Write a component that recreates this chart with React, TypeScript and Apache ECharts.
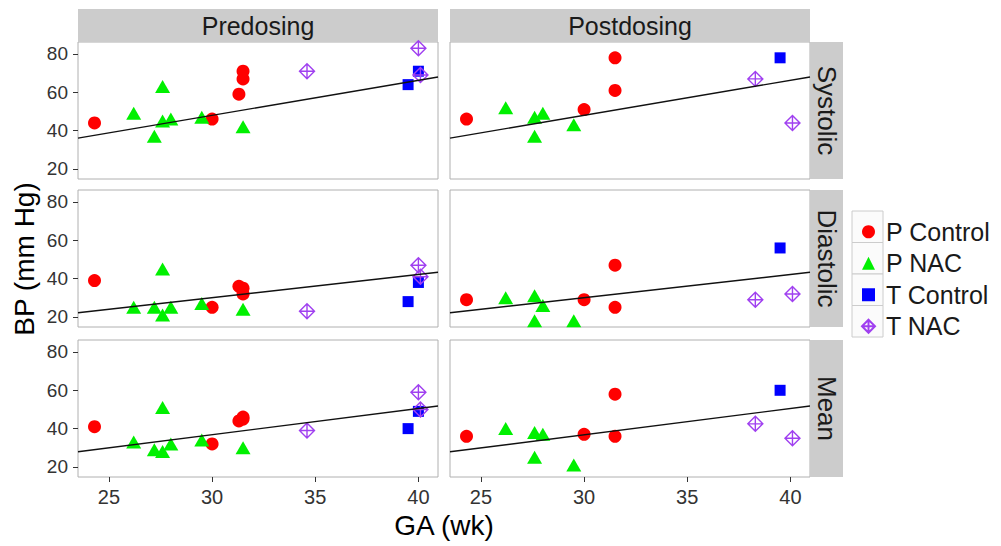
import React, { useEffect, useRef } from "react";
import * as echarts from "echarts";

const groups = ["P Control", "P NAC", "T Control", "T NAC"];
const periods = ["Predosing", "Postdosing"];
const measures = ["Systolic", "Diastolic", "Mean"];
const xTicks = [25, 30, 35, 40];
const yTicks = [20, 40, 60, 80];

// GA (wk) of each subject, per group and period
const preGaPControl = [24.3, 30.0, 31.3, 31.5, 31.5];
const preGaPNac = [26.2, 27.2, 27.6, 27.6, 28.0, 29.5, 31.5];
const preGaTControl = [39.5, 40.0];
const preGaTNac = [34.6, 40.0, 40.1];
const postGaPControl = [24.3, 30.0, 31.5, 31.5];
const postGaPNac = [26.2, 27.6, 27.6, 28.0, 29.5];
const postGaTControl = [39.5];
const postGaTNac = [38.3, 40.1];

// Predosing BP (mm Hg)
const preSysPControl = [44, 46, 59, 67, 71];
const preSysPNac = [49, 37, 63, 45, 46, 47, 42];
const preSysTControl = [64, 71];
const preSysTNac = [71, 83, 69];
const preDiaPControl = [39, 25, 36, 35, 32];
const preDiaPNac = [25, 25, 45, 21, 25, 27, 24];
const preDiaTControl = [28, 38];
const preDiaTNac = [23, 47, 41];
const preMeanPControl = [41, 32, 44, 46, 45];
const preMeanPNac = [33, 29, 51, 28, 32, 34, 30];
const preMeanTControl = [40, 49];
const preMeanTNac = [39, 59, 50];

// Postdosing BP (mm Hg)
const postSysPControl = [46, 51, 61, 78];
const postSysPNac = [52, 47, 37, 49, 43];
const postSysTControl = [78];
const postSysTNac = [67, 44];
const postDiaPControl = [29, 29, 47, 25];
const postDiaPNac = [30, 31, 18, 26, 18];
const postDiaTControl = [56];
const postDiaTNac = [29, 32];
const postMeanPControl = [36, 37, 58, 36];
const postMeanPNac = [40, 38, 25, 37, 21];
const postMeanTControl = [60];
const postMeanTNac = [42.5, 35];

// Fitted regression line ends (GA range of panel)
const fitGa = [23.5, 40.95];
const fitSystolic = [36.1, 68.0];
const fitDiastolic = [22.2, 43.3];
const fitMean = [27.9, 51.8];

const gaTable = [
  [preGaPControl, preGaPNac, preGaTControl, preGaTNac],
  [postGaPControl, postGaPNac, postGaTControl, postGaTNac],
];
const bpTable = [
  [
    [preSysPControl, preSysPNac, preSysTControl, preSysTNac],
    [preDiaPControl, preDiaPNac, preDiaTControl, preDiaTNac],
    [preMeanPControl, preMeanPNac, preMeanTControl, preMeanTNac],
  ],
  [
    [postSysPControl, postSysPNac, postSysTControl, postSysTNac],
    [postDiaPControl, postDiaPNac, postDiaTControl, postDiaTNac],
    [postMeanPControl, postMeanPNac, postMeanTControl, postMeanTNac],
  ],
];
const fitTable = [fitSystolic, fitDiastolic, fitMean];

const FONT = "'Liberation Sans', Arial, Helvetica, sans-serif";
const diamondPlus = "path://M0,-10L10,0L0,10L-10,0ZM0,-10L0,10M-10,0L10,0";

const groupStyles: any[] = [
  { symbol: "circle", symbolSize: 13, itemStyle: { color: "#ff0000", opacity: 1 } },
  { symbol: "triangle", symbolSize: [15, 13], itemStyle: { color: "#00f000", opacity: 1 } },
  { symbol: "rect", symbolSize: 11, itemStyle: { color: "#0000ff", opacity: 1 } },
  {
    symbol: diamondPlus,
    symbolSize: 15,
    itemStyle: { color: "rgba(0,0,0,0)", borderColor: "#a040f0", borderWidth: 1.4, opacity: 1 },
  },
];

const colLeft = [78, 450];
const rowTop = [42, 190, 340];
const panelW = 360;
const panelH = 137;

export default function App() {
  const ref = useRef<HTMLDivElement>(null);

  useEffect(() => {
    document.body.style.margin = "0";
    const chart = echarts.init(ref.current!, null, { renderer: "svg" });

    const grids: any[] = [];
    const xAxes: any[] = [];
    const yAxes: any[] = [];
    const series: any[] = [];
    const graphics: any[] = [];

    measures.forEach((m, r) => {
      periods.forEach((p, c) => {
        const gi = r * 2 + c;
        grids.push({
          left: colLeft[c],
          top: rowTop[r],
          width: panelW,
          height: panelH,
          show: true,
          backgroundColor: "#ffffff",
          borderColor: "#b0b0b0",
          borderWidth: 1,
          containLabel: false,
          outerBoundsMode: "none",
        });
        const bottomRow = r === measures.length - 1;
        const leftCol = c === 0;
        xAxes.push({
          type: "value",
          gridIndex: gi,
          min: 23.5,
          max: 40.95,
          axisLine: { show: false },
          splitLine: { show: false },
          axisTick: {
            show: bottomRow,
            customValues: xTicks,
            length: 5,
            lineStyle: { color: "#333333", width: 1 },
          },
          axisLabel: {
            show: bottomRow,
            customValues: xTicks,
            fontSize: 20,
            color: "#333333",
            fontFamily: FONT,
            margin: 10,
          },
        });
        yAxes.push({
          type: "value",
          gridIndex: gi,
          min: 14.75,
          max: 86.25,
          axisLine: { show: false },
          splitLine: { show: false },
          axisTick: {
            show: leftCol,
            customValues: yTicks,
            length: 5,
            lineStyle: { color: "#333333", width: 1 },
          },
          axisLabel: {
            show: leftCol,
            customValues: yTicks,
            fontSize: 19,
            color: "#333333",
            fontFamily: FONT,
            margin: 10,
          },
        });
        groups.forEach((g, k) => {
          const xs = gaTable[c][k];
          const ys = bpTable[c][r][k];
          series.push({
            type: "scatter",
            name: g,
            xAxisIndex: gi,
            yAxisIndex: gi,
            data: xs.map((x, i) => [x, ys[i]]),
            ...groupStyles[k],
            z: 2,
          });
        });
        const fit = fitTable[r];
        series.push({
          type: "line",
          name: "fit",
          xAxisIndex: gi,
          yAxisIndex: gi,
          data: fitGa.map((x, i) => [x, fit[i]]),
          symbol: "none",
          lineStyle: { color: "#111111", width: 1.4 },
          z: 3,
          silent: true,
        });
      });
    });

    // top strips
    periods.forEach((p, c) => {
      graphics.push({
        type: "rect",
        shape: { x: colLeft[c], y: 9, width: panelW, height: 33 },
        style: { fill: "#cccccc" },
        z: 1,
      });
      graphics.push({
        type: "text",
        x: colLeft[c] + panelW / 2,
        y: 26,
        style: {
          text: p,
          fill: "#1a1a1a",
          fontSize: 25,
          fontFamily: FONT,
          align: "center",
          verticalAlign: "middle",
        },
        z: 2,
      });
    });
    // right strips
    measures.forEach((m, r) => {
      graphics.push({
        type: "rect",
        shape: { x: 810, y: rowTop[r], width: 33, height: panelH },
        style: { fill: "#cccccc" },
        z: 1,
      });
      graphics.push({
        type: "text",
        x: 826.5,
        y: rowTop[r] + panelH / 2,
        rotation: -Math.PI / 2,
        style: {
          text: m,
          fill: "#1a1a1a",
          fontSize: 26,
          fontFamily: FONT,
          align: "center",
          verticalAlign: "middle",
        },
        z: 2,
      });
    });
    // axis titles
    graphics.push({
      type: "text",
      x: 24,
      y: 259,
      rotation: Math.PI / 2,
      style: {
        text: "BP (mm Hg)",
        fill: "#000000",
        fontSize: 28,
        fontFamily: FONT,
        align: "center",
        verticalAlign: "middle",
      },
    });
    graphics.push({
      type: "text",
      x: 444,
      y: 525,
      style: {
        text: "GA (wk)",
        fill: "#000000",
        fontSize: 28,
        fontFamily: FONT,
        align: "center",
        verticalAlign: "middle",
      },
    });
    // legend key boxes
    groups.forEach((g, k) => {
      graphics.push({
        type: "rect",
        shape: { x: 852, y: 211 + k * 31.5, width: 31, height: 31.5 },
        style: { fill: "#fbfbfb", stroke: "#cccccc", lineWidth: 1 },
        z: 0,
      });
    });

    chart.setOption({
      animation: false,
      backgroundColor: "#ffffff",
      grid: grids,
      xAxis: xAxes,
      yAxis: yAxes,
      series,
      graphic: { elements: graphics },
      legend: {
        data: groups,
        orient: "vertical",
        left: 856,
        top: 212.75,
        itemWidth: 13,
        itemHeight: 13,
        itemGap: 3.5,
        selectedMode: false,
        textStyle: {
          fontSize: 25,
          lineHeight: 28,
          color: "#1a1a1a",
          fontFamily: FONT,
          padding: [0, 0, 0, 6],
        },
      },
    });

    return () => chart.dispose();
  }, []);

  return <div ref={ref} style={{ width: 1001, height: 546 }} />;
}
